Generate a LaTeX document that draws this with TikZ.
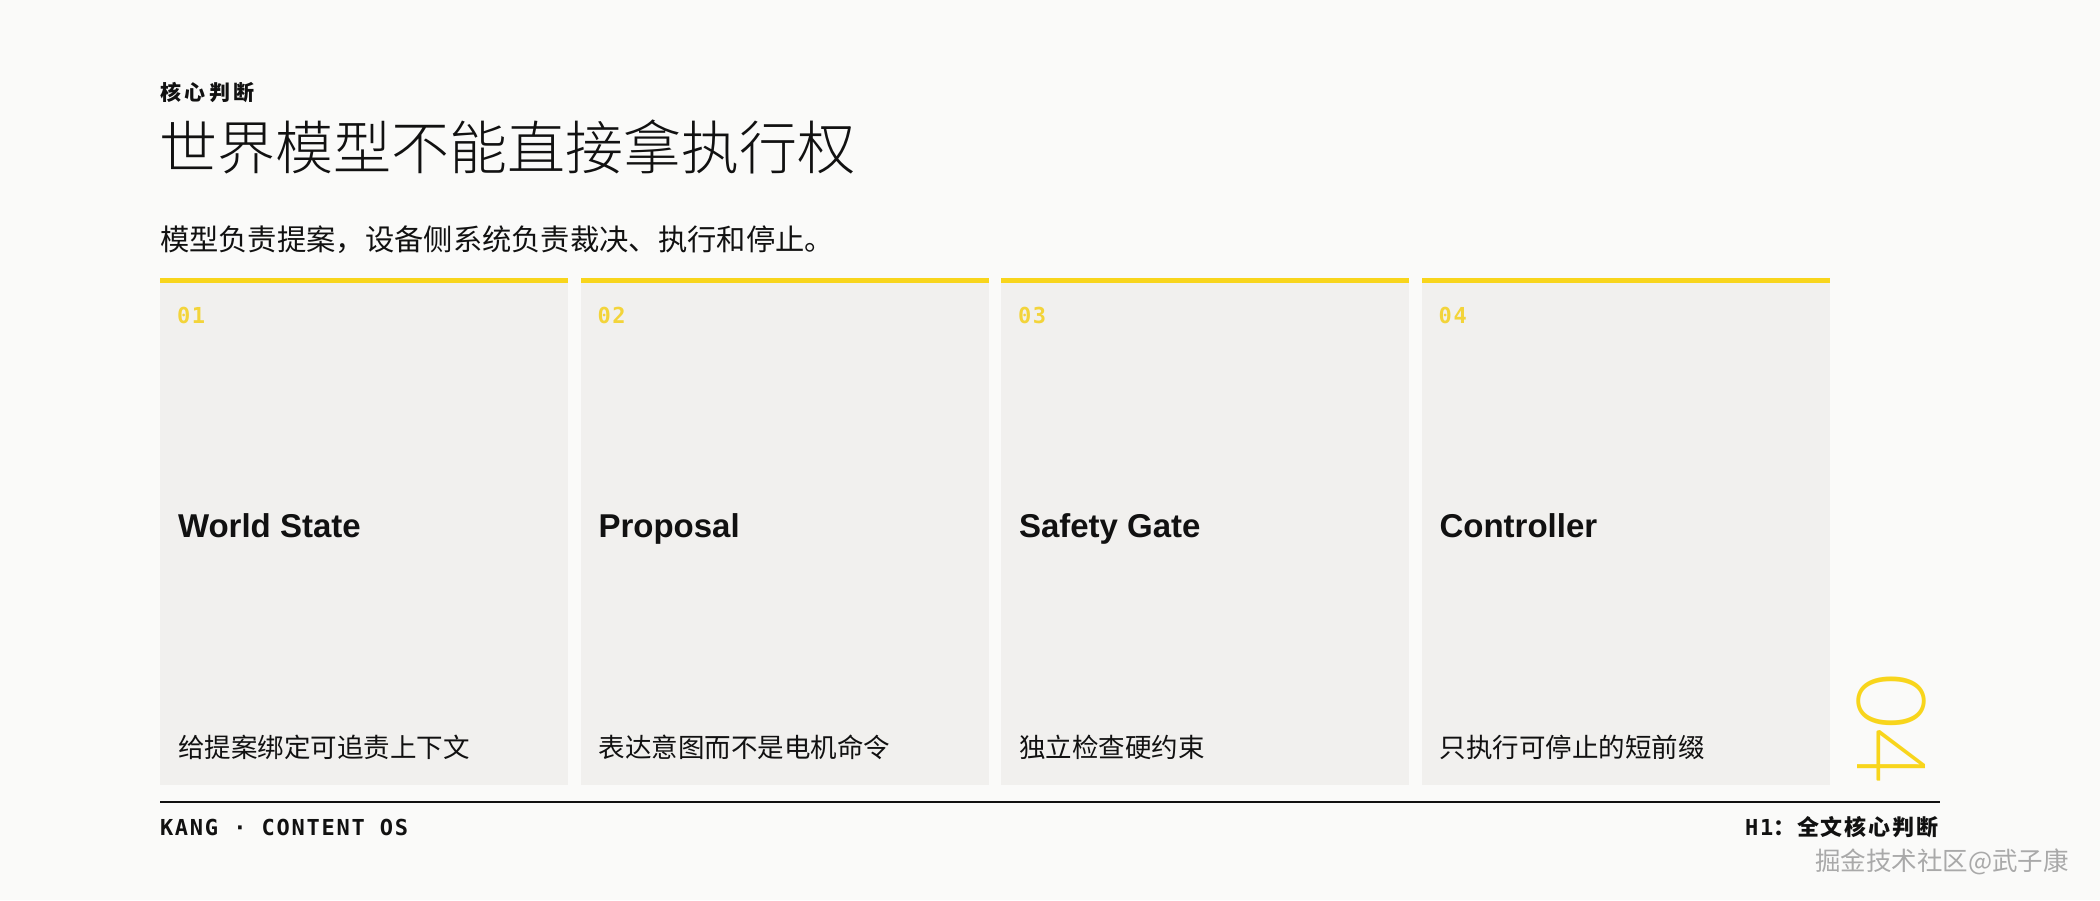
\documentclass[tikz,border=0pt]{standalone}
\usepackage{fontspec}
\setmainfont{Liberation Sans}
\newfontfamily\cjk{Noto Sans CJK SC}
\IfFontExistsTF{Noto Sans CJK SC Light}{\newfontfamily\cjklight{Noto Sans CJK SC Light}}{\newfontfamily\cjklight{Noto Sans CJK SC}}
\IfFontExistsTF{Lato Light}{\newfontfamily\thinf{Lato Light}}{\newfontfamily\thinf{Lato}}
\newfontfamily\mono{DejaVu Sans Mono}
\newfontfamily\monosp{DejaVu Sans Mono}[LetterSpace=8]
\newfontfamily\cjksp{Noto Sans CJK SC}[LetterSpace=8]
\newfontfamily\cjkkick{Noto Sans CJK SC}[LetterSpace=17]
\newcommand\fsz[1]{\fontsize{#1}{#1}\selectfont}
\definecolor{bg}{HTML}{FAFAF9}
\definecolor{cardc}{HTML}{F1F0EE}
\definecolor{ylw}{HTML}{F8D51C}
\definecolor{numy}{HTML}{F3D43A}
\definecolor{ink}{HTML}{111111}
\definecolor{wmark}{HTML}{A9A9A9}
\tikzset{
  txt/.style={inner sep=0pt, outer sep=0pt, text=ink},
  cardbox/.style={fill=cardc, draw=none, minimum width=408pt, minimum height=502pt, inner sep=0pt, outer sep=0pt},
  numlab/.style={txt, text=numy, font=\monosp\bfseries\fsz{22}},
  ctitle/.style={txt, font=\bfseries\fsz{33}},
  cdesc/.style={txt, font=\cjk\fsz{26.5}},
}
\begin{document}
\begin{tikzpicture}[x=1pt, y=-1pt]
\fill[bg] (0,0) rectangle (2100,900);
\useasboundingbox (0,0) rectangle (2100,900);

\node[txt, anchor=base west, font=\cjkkick\bfseries\fsz{21}] (kicker) at (160,100) {核心判断};
\node[txt, anchor=base west, font=\cjklight\fsz{58}] (title) at (159,169) {世界模型不能直接拿执行权};
\node[txt, anchor=base west, font=\cjk\fsz{29.3}] (sub) at (160,250) {模型负责提案，设备侧系统负责裁决、执行和停止。};

\foreach \i/\t/\d in {1/World State/给提案绑定可追责上下文,
                      2/Proposal/表达意图而不是电机命令,
                      3/Safety Gate/独立检查硬约束,
                      4/Controller/只执行可停止的短前缀} {
  \pgfmathsetmacro\xx{160+(\i-1)*420.5}
  \node[cardbox, anchor=north west] (card\i) at (\xx,283) {};
  \fill[ylw] (\xx,278) rectangle ++(408,5);
  \node[numlab, anchor=base west] (num\i) at ({\xx+17},323) {0\i};
  \node[ctitle, anchor=base west] (title\i) at ({\xx+18},537) {\t};
  \node[cdesc, anchor=base west] (desc\i) at ({\xx+18},757) {\d};
}

\node[txt, anchor=base west, text=ylw, rotate=-90, font=\thinf\fsz{96}] (bignum) at (1857,673) {04};

\coordinate (ruleL) at (160,802);
\coordinate (ruleR) at (1940,802);
\draw[ink, line width=2pt] (ruleL) -- (ruleR);

\node[txt, anchor=base west, font=\monosp\bfseries\fsz{22}] (footL) at (160,835) {KANG · CONTENT OS};
\node[txt, anchor=base east, font=\bfseries\fsz{22}] (footR) at (1938,835) {{\monosp H1}{\cjksp ：全文核心判断}};

\node[txt, anchor=base west, text=wmark, font=\cjk\fsz{25.5}] (wm) at (1815,870) {掘金技术社区@武子康};
\end{tikzpicture}
\end{document}
